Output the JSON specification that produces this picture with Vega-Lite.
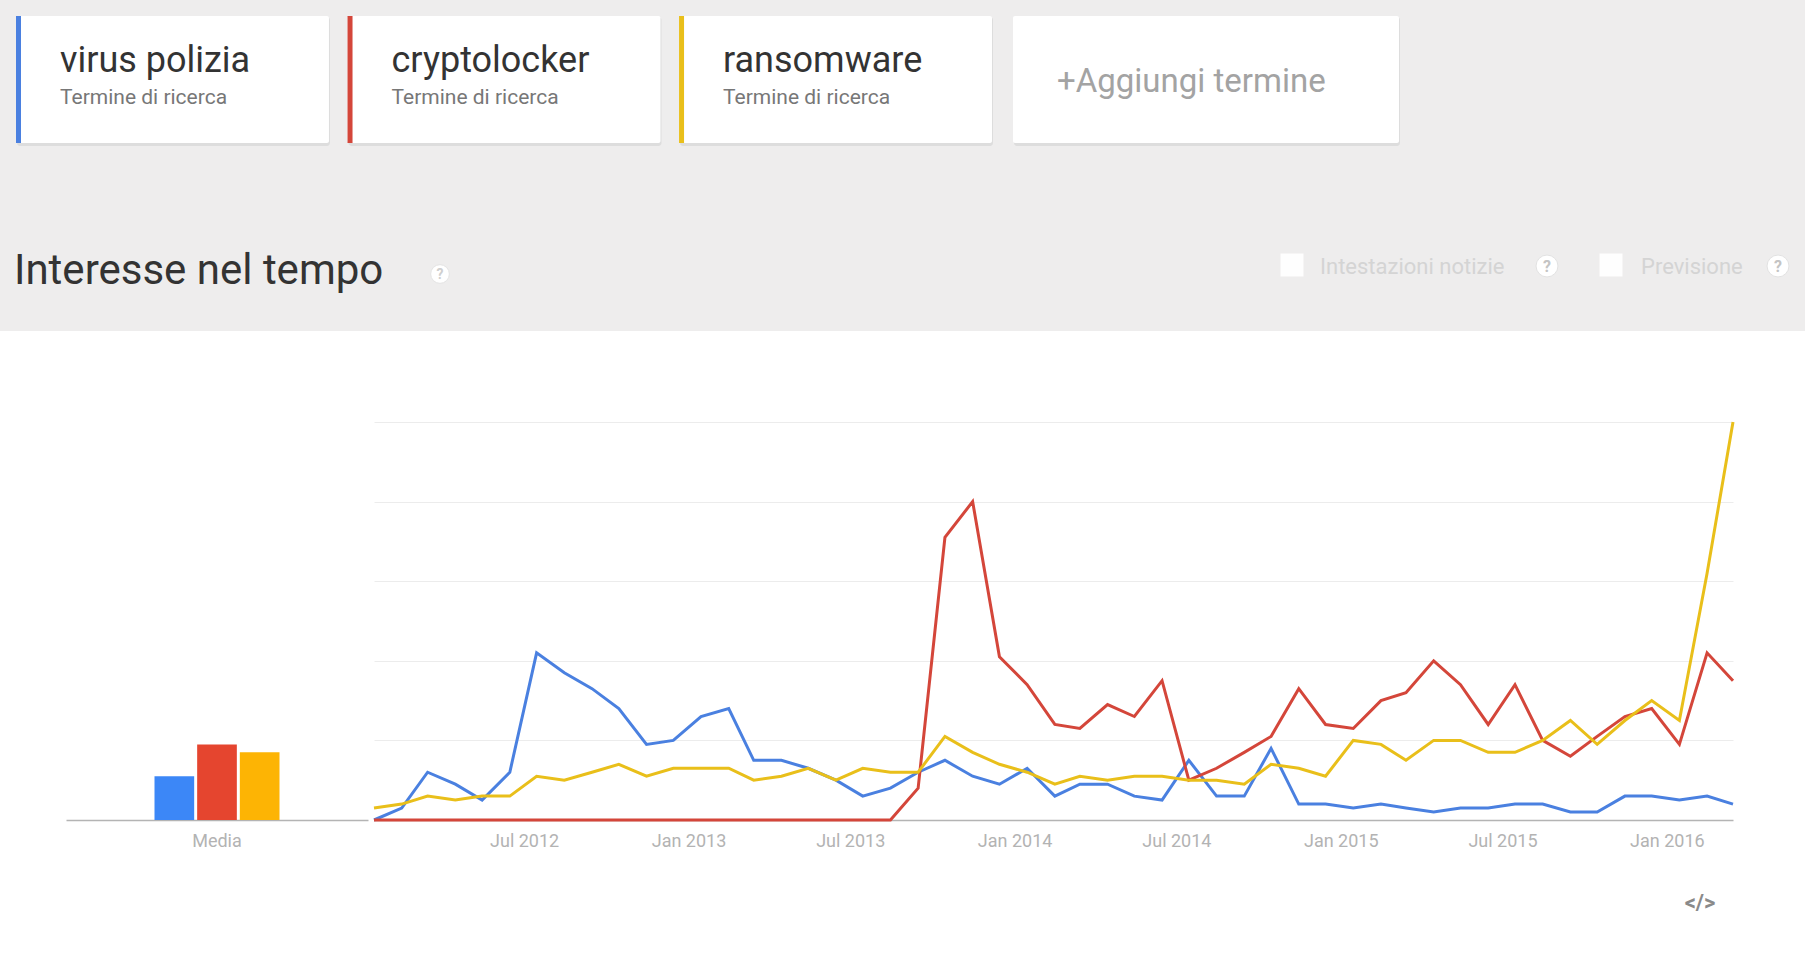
{
  "$schema": "https://vega.github.io/schema/vega-lite/v6.json",
  "background": "#ffffff",
  "padding": 0,
  "spacing": 85,
  "center": true,
  "config": {
    "view": {"stroke": null},
    "font": "Roboto",
    "text": {"font": "Roboto"}
  },
  "resolve": {"scale": {"color": "independent"}},
  "vconcat": [
    {
      "width": 1805,
      "height": 331,
      "view": {"fill": "#eeeded", "stroke": null},
      "resolve": {"scale": {"x": "independent"}},
      "layer": [
        {
          "data": {"values": [
            {"term": "virus polizia", "sub": "Termine di ricerca"},
            {"term": "cryptolocker", "sub": "Termine di ricerca"},
            {"term": "ransomware", "sub": "Termine di ricerca"}
          ]},
          "layer": [
            {
              "mark": {"type": "rect", "fill": "#d6d6d6", "opacity": 0.7, "cornerRadius": 3, "xOffset": 1, "x2Offset": 2},
              "encoding": {
                "x": {"field": "term", "type": "nominal", "sort": ["virus polizia", "cryptolocker", "ransomware"], "scale": {"range": [16, 992], "paddingInner": 0.056, "paddingOuter": 0}, "axis": null},
                "y": {"value": 17},
                "y2": {"value": 146}
              }
            },
            {
              "mark": {"type": "rect", "fill": "#ffffff", "cornerRadius": 2},
              "encoding": {
                "x": {"field": "term", "type": "nominal", "sort": ["virus polizia", "cryptolocker", "ransomware"], "scale": {"range": [16, 992], "paddingInner": 0.056, "paddingOuter": 0}, "axis": null},
                "y": {"value": 16},
                "y2": {"value": 143}
              }
            },
            {
              "mark": {"type": "rule", "strokeWidth": 5, "xOffset": 2.5},
              "encoding": {
                "x": {"field": "term", "type": "nominal", "bandPosition": 0, "sort": ["virus polizia", "cryptolocker", "ransomware"], "scale": {"range": [16, 992], "paddingInner": 0.056, "paddingOuter": 0}, "axis": null},
                "y": {"value": 16},
                "y2": {"value": 143},
                "color": {"field": "term", "type": "nominal", "scale": {"domain": ["virus polizia", "cryptolocker", "ransomware"], "range": ["#4a80e0", "#d4463a", "#e9bf1a"]}, "legend": null}
              }
            },
            {
              "mark": {"type": "text", "align": "left", "baseline": "alphabetic", "dx": 44, "fontSize": 36, "color": "#333333"},
              "encoding": {
                "x": {"field": "term", "type": "nominal", "bandPosition": 0, "sort": ["virus polizia", "cryptolocker", "ransomware"], "scale": {"range": [16, 992], "paddingInner": 0.056, "paddingOuter": 0}, "axis": null},
                "y": {"value": 72},
                "text": {"field": "term"}
              }
            },
            {
              "mark": {"type": "text", "align": "left", "baseline": "alphabetic", "dx": 44, "fontSize": 21, "color": "#777777"},
              "encoding": {
                "x": {"field": "term", "type": "nominal", "bandPosition": 0, "sort": ["virus polizia", "cryptolocker", "ransomware"], "scale": {"range": [16, 992], "paddingInner": 0.056, "paddingOuter": 0}, "axis": null},
                "y": {"value": 104},
                "text": {"field": "sub"}
              }
            }
          ]
        },
        {
          "data": {"values": [{"label": "+Aggiungi termine"}]},
          "layer": [
            {
              "mark": {"type": "rect", "fill": "#d6d6d6", "opacity": 0.7, "cornerRadius": 3, "xOffset": 1, "x2Offset": 2},
              "encoding": {
                "x": {"field": "label", "type": "nominal", "scale": {"range": [1013, 1399], "paddingInner": 0, "paddingOuter": 0}, "axis": null},
                "y": {"value": 17},
                "y2": {"value": 146}
              }
            },
            {
              "mark": {"type": "rect", "fill": "#ffffff", "cornerRadius": 2},
              "encoding": {
                "x": {"field": "label", "type": "nominal", "scale": {"range": [1013, 1399], "paddingInner": 0, "paddingOuter": 0}, "axis": null},
                "y": {"value": 16},
                "y2": {"value": 143}
              }
            },
            {
              "mark": {"type": "text", "align": "left", "baseline": "alphabetic", "dx": 44, "fontSize": 33, "color": "#a3a3a3"},
              "encoding": {
                "x": {"field": "label", "type": "nominal", "bandPosition": 0, "scale": {"range": [1013, 1399], "paddingInner": 0, "paddingOuter": 0}, "axis": null},
                "y": {"value": 92},
                "text": {"field": "label"}
              }
            }
          ]
        },
        {
          "data": {"values": [{"label": "Interesse nel tempo"}]},
          "mark": {"type": "text", "align": "left", "baseline": "alphabetic", "fontSize": 42, "color": "#333333"},
          "encoding": {"x": {"value": 14}, "y": {"value": 284}, "text": {"field": "label"}}
        },
        {
          "data": {"values": [{"label": "?"}]},
          "mark": {"type": "point", "shape": "circle", "filled": true, "fill": "#ffffff", "stroke": "#e4e4e4", "strokeWidth": 1, "size": 350, "opacity": 1},
          "encoding": {"x": {"value": 440}, "y": {"value": 274}}
        },
        {
          "data": {"values": [{"label": "?"}]},
          "mark": {"type": "text", "align": "center", "baseline": "middle", "fontSize": 14, "fontWeight": "bold", "color": "#cfcfcf"},
          "encoding": {"x": {"value": 440}, "y": {"value": 275}, "text": {"field": "label"}}
        },
        {
          "data": {"values": [{"label": "Intestazioni notizie"}]},
          "layer": [
            {
              "mark": {"type": "point", "shape": "square", "filled": true, "fill": "#ffffff", "size": 529, "opacity": 0.9},
              "encoding": {"x": {"value": 1292}, "y": {"value": 265}}
            },
            {
              "mark": {"type": "text", "align": "left", "baseline": "middle", "fontSize": 22, "color": "#d4d4d4"},
              "encoding": {"x": {"value": 1320}, "y": {"value": 267}, "text": {"field": "label"}}
            },
            {
              "mark": {"type": "point", "shape": "circle", "filled": true, "fill": "#ffffff", "stroke": "#e2e2e2", "strokeWidth": 1, "size": 480, "opacity": 1},
              "encoding": {"x": {"value": 1547}, "y": {"value": 266}}
            },
            {
              "mark": {"type": "text", "align": "center", "baseline": "middle", "fontSize": 16, "fontWeight": "bold", "color": "#c4c4c4", "text": "?"},
              "encoding": {"x": {"value": 1547}, "y": {"value": 267}}
            }
          ]
        },
        {
          "data": {"values": [{"label": "Previsione"}]},
          "layer": [
            {
              "mark": {"type": "point", "shape": "square", "filled": true, "fill": "#ffffff", "size": 529, "opacity": 0.9},
              "encoding": {"x": {"value": 1611}, "y": {"value": 265}}
            },
            {
              "mark": {"type": "text", "align": "left", "baseline": "middle", "fontSize": 22, "color": "#d4d4d4"},
              "encoding": {"x": {"value": 1641}, "y": {"value": 267}, "text": {"field": "label"}}
            },
            {
              "mark": {"type": "point", "shape": "circle", "filled": true, "fill": "#ffffff", "stroke": "#e2e2e2", "strokeWidth": 1, "size": 480, "opacity": 1},
              "encoding": {"x": {"value": 1778}, "y": {"value": 266}}
            },
            {
              "mark": {"type": "text", "align": "center", "baseline": "middle", "fontSize": 16, "fontWeight": "bold", "color": "#c4c4c4", "text": "?"},
              "encoding": {"x": {"value": 1778}, "y": {"value": 267}}
            }
          ]
        }
      ]
    },
    {
      "spacing": 0,
      "resolve": {"scale": {"color": "independent"}},
      "hconcat": [
        {
          "width": 302,
          "height": 398,
          "data": {"values": [
            {"periodo": "Media", "term": "virus polizia", "valore": 11},
            {"periodo": "Media", "term": "cryptolocker", "valore": 19},
            {"periodo": "Media", "term": "ransomware", "valore": 17}
          ]},
          "mark": {"type": "bar"},
          "encoding": {
            "x": {
              "field": "periodo", "type": "nominal",
              "scale": {"paddingInner": 0, "paddingOuter": 0.708, "align": 0.5},
              "axis": {"title": null, "ticks": false, "labelAngle": 0, "labelColor": "#b3b3b3", "labelFontSize": 18, "labelPadding": 12, "domainColor": "#b4b4b4", "domainWidth": 1.5}
            },
            "xOffset": {"field": "term", "type": "nominal", "sort": ["virus polizia", "cryptolocker", "ransomware"], "scale": {"paddingInner": 0.07, "paddingOuter": 0}},
            "y": {"field": "valore", "type": "quantitative", "scale": {"domain": [0, 100]}, "axis": null},
            "color": {"field": "term", "type": "nominal", "scale": {"domain": ["virus polizia", "cryptolocker", "ransomware"], "range": ["#3c87f7", "#e5452f", "#fdb404"]}, "legend": null}
          }
        },
        {
          "width": 1359,
          "height": 398,
          "layer": [
            {
              "data": {"values": [
                {"mese": "2012-01-15", "virus polizia": 0, "cryptolocker": 0, "ransomware": 3},
                {"mese": "2012-02-15", "virus polizia": 3, "cryptolocker": 0, "ransomware": 4},
                {"mese": "2012-03-15", "virus polizia": 12, "cryptolocker": 0, "ransomware": 6},
                {"mese": "2012-04-15", "virus polizia": 9, "cryptolocker": 0, "ransomware": 5},
                {"mese": "2012-05-15", "virus polizia": 5, "cryptolocker": 0, "ransomware": 6},
                {"mese": "2012-06-15", "virus polizia": 12, "cryptolocker": 0, "ransomware": 6},
                {"mese": "2012-07-15", "virus polizia": 42, "cryptolocker": 0, "ransomware": 11},
                {"mese": "2012-08-15", "virus polizia": 37, "cryptolocker": 0, "ransomware": 10},
                {"mese": "2012-09-15", "virus polizia": 33, "cryptolocker": 0, "ransomware": 12},
                {"mese": "2012-10-15", "virus polizia": 28, "cryptolocker": 0, "ransomware": 14},
                {"mese": "2012-11-15", "virus polizia": 19, "cryptolocker": 0, "ransomware": 11},
                {"mese": "2012-12-15", "virus polizia": 20, "cryptolocker": 0, "ransomware": 13},
                {"mese": "2013-01-15", "virus polizia": 26, "cryptolocker": 0, "ransomware": 13},
                {"mese": "2013-02-15", "virus polizia": 28, "cryptolocker": 0, "ransomware": 13},
                {"mese": "2013-03-15", "virus polizia": 15, "cryptolocker": 0, "ransomware": 10},
                {"mese": "2013-04-15", "virus polizia": 15, "cryptolocker": 0, "ransomware": 11},
                {"mese": "2013-05-15", "virus polizia": 13, "cryptolocker": 0, "ransomware": 13},
                {"mese": "2013-06-15", "virus polizia": 10, "cryptolocker": 0, "ransomware": 10},
                {"mese": "2013-07-15", "virus polizia": 6, "cryptolocker": 0, "ransomware": 13},
                {"mese": "2013-08-15", "virus polizia": 8, "cryptolocker": 0, "ransomware": 12},
                {"mese": "2013-09-15", "virus polizia": 12, "cryptolocker": 8, "ransomware": 12},
                {"mese": "2013-10-15", "virus polizia": 15, "cryptolocker": 71, "ransomware": 21},
                {"mese": "2013-11-15", "virus polizia": 11, "cryptolocker": 80, "ransomware": 17},
                {"mese": "2013-12-15", "virus polizia": 9, "cryptolocker": 41, "ransomware": 14},
                {"mese": "2014-01-15", "virus polizia": 13, "cryptolocker": 34, "ransomware": 12},
                {"mese": "2014-02-15", "virus polizia": 6, "cryptolocker": 24, "ransomware": 9},
                {"mese": "2014-03-15", "virus polizia": 9, "cryptolocker": 23, "ransomware": 11},
                {"mese": "2014-04-15", "virus polizia": 9, "cryptolocker": 29, "ransomware": 10},
                {"mese": "2014-05-15", "virus polizia": 6, "cryptolocker": 26, "ransomware": 11},
                {"mese": "2014-06-15", "virus polizia": 5, "cryptolocker": 35, "ransomware": 11},
                {"mese": "2014-07-15", "virus polizia": 15, "cryptolocker": 10, "ransomware": 10},
                {"mese": "2014-08-15", "virus polizia": 6, "cryptolocker": 13, "ransomware": 10},
                {"mese": "2014-09-15", "virus polizia": 6, "cryptolocker": 17, "ransomware": 9},
                {"mese": "2014-10-15", "virus polizia": 18, "cryptolocker": 21, "ransomware": 14},
                {"mese": "2014-11-15", "virus polizia": 4, "cryptolocker": 33, "ransomware": 13},
                {"mese": "2014-12-15", "virus polizia": 4, "cryptolocker": 24, "ransomware": 11},
                {"mese": "2015-01-15", "virus polizia": 3, "cryptolocker": 23, "ransomware": 20},
                {"mese": "2015-02-15", "virus polizia": 4, "cryptolocker": 30, "ransomware": 19},
                {"mese": "2015-03-15", "virus polizia": 3, "cryptolocker": 32, "ransomware": 15},
                {"mese": "2015-04-15", "virus polizia": 2, "cryptolocker": 40, "ransomware": 20},
                {"mese": "2015-05-15", "virus polizia": 3, "cryptolocker": 34, "ransomware": 20},
                {"mese": "2015-06-15", "virus polizia": 3, "cryptolocker": 24, "ransomware": 17},
                {"mese": "2015-07-15", "virus polizia": 4, "cryptolocker": 34, "ransomware": 17},
                {"mese": "2015-08-15", "virus polizia": 4, "cryptolocker": 20, "ransomware": 20},
                {"mese": "2015-09-15", "virus polizia": 2, "cryptolocker": 16, "ransomware": 25},
                {"mese": "2015-10-15", "virus polizia": 2, "cryptolocker": 21, "ransomware": 19},
                {"mese": "2015-11-15", "virus polizia": 6, "cryptolocker": 26, "ransomware": 25},
                {"mese": "2015-12-15", "virus polizia": 6, "cryptolocker": 28, "ransomware": 30},
                {"mese": "2016-01-15", "virus polizia": 5, "cryptolocker": 19, "ransomware": 25},
                {"mese": "2016-02-15", "virus polizia": 6, "cryptolocker": 42, "ransomware": 62},
                {"mese": "2016-03-15", "virus polizia": 4, "cryptolocker": 35, "ransomware": 100}
              ]},
              "transform": [
                {"fold": ["virus polizia", "cryptolocker", "ransomware"], "as": ["term", "valore"]}
              ],
              "mark": {"type": "line", "strokeWidth": 3, "strokeJoin": "miter"},
              "encoding": {
                "x": {
                  "field": "mese", "type": "temporal",
                  "scale": {"type": "utc", "nice": false},
                  "axis": {
                    "title": null, "grid": false, "ticks": false,
                    "labelExpr": "utcFormat(datum.value, '%b %Y')",
                    "values": [
                      {"year": 2012, "month": 7, "date": 1, "utc": true},
                      {"year": 2013, "month": 1, "date": 1, "utc": true},
                      {"year": 2013, "month": 7, "date": 1, "utc": true},
                      {"year": 2014, "month": 1, "date": 1, "utc": true},
                      {"year": 2014, "month": 7, "date": 1, "utc": true},
                      {"year": 2015, "month": 1, "date": 1, "utc": true},
                      {"year": 2015, "month": 7, "date": 1, "utc": true},
                      {"year": 2016, "month": 1, "date": 1, "utc": true}
                    ],
                    "labelColor": "#b3b3b3", "labelFontSize": 18, "labelPadding": 12,
                    "labelOverlap": false, "labelFlush": false,
                    "domainColor": "#b4b4b4", "domainWidth": 1.5
                  }
                },
                "y": {
                  "field": "valore", "type": "quantitative",
                  "scale": {"domain": [0, 100]},
                  "axis": {"title": null, "labels": false, "ticks": false, "domain": false, "grid": true, "gridColor": "#ececec", "gridWidth": 1, "values": [20, 40, 60, 80, 100]}
                },
                "color": {"field": "term", "type": "nominal", "scale": {"domain": ["virus polizia", "cryptolocker", "ransomware"], "range": ["#4a80e0", "#d4463a", "#e9bf1a"]}, "legend": null}
              }
            },
            {
              "data": {"values": [{"label": "</>"}]},
              "mark": {"type": "text", "align": "center", "baseline": "middle", "fontSize": 22, "fontWeight": "bold", "color": "#8a8a8a"},
              "encoding": {"x": {"value": 1326}, "y": {"value": 481}, "text": {"field": "label"}}
            }
          ]
        }
      ]
    }
  ]
}
